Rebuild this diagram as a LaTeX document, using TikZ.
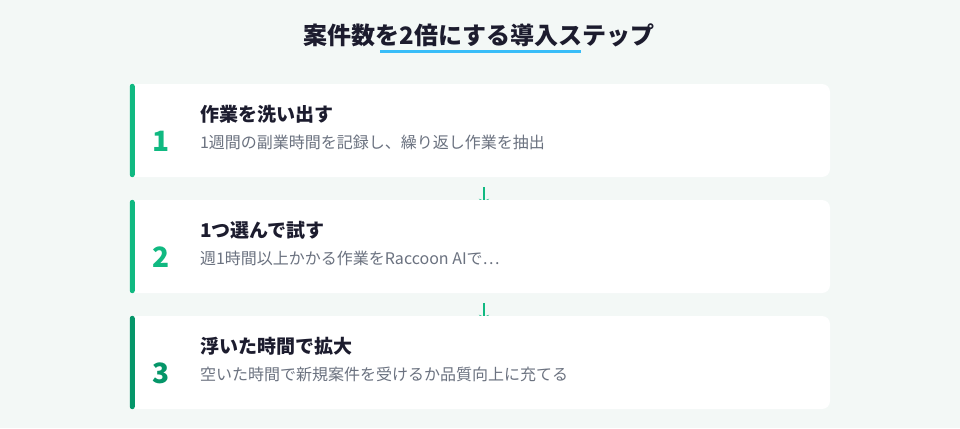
\documentclass[tikz,border=0pt]{standalone}
\usepackage{fontspec}
\setmainfont{Noto Sans CJK JP}
\usetikzlibrary{arrows.meta}

\definecolor{pagebg}{HTML}{F3F8F6}
\definecolor{inkdark}{HTML}{1C1C2E}
\definecolor{inkgray}{HTML}{6B7280}
\definecolor{stepgreen}{HTML}{10B981}
\definecolor{stepdeep}{HTML}{059669}
\definecolor{markblue}{HTML}{38BDF8}

\pgfdeclarelayer{bg}
\pgfdeclarelayer{mid}
\pgfsetlayers{bg,mid,main}

\tikzset{
  card/.style={fill=white, rounded corners=8pt, minimum width=700pt, minimum height=93pt, inner sep=0pt},
  heading/.style={font=\fontsize{24pt}{28pt}\selectfont\bfseries, text=inkdark, inner sep=0pt},
  steptitle/.style={anchor=west, font=\fontsize{19pt}{22pt}\selectfont\bfseries, text=inkdark, inner sep=0pt},
  stepdesc/.style={anchor=west, font=\fontsize{16pt}{19pt}\selectfont, text=inkgray, inner sep=0pt},
  stepno/.style={font=\fontsize{28pt}{32pt}\selectfont\bfseries, inner sep=0pt},
  flow/.style={draw=stepgreen, line width=2pt, -{Stealth[length=6pt,width=10pt]}}
}

\begin{document}
\begin{tikzpicture}[x=1pt, y=-1pt]
\begin{pgfonlayer}{bg}
\fill[pagebg] (0,0) rectangle (960,428);
\end{pgfonlayer}
\useasboundingbox (0,0) rectangle (960,428);

\node[heading] (head) at (479,35.5) {案件数を2倍にする導入ステップ};
\draw[markblue, line width=3pt] (380,52) -- (581,52);

\node[card] (c1) at (480,130.5) {};
\node[card] (c2) at (480,246.5) {};
\node[card] (c3) at (480,362.5) {};

% left bars
\foreach \c/\col in {c1/stepgreen, c2/stepgreen, c3/stepdeep} {
  \fill[white] ([xshift=4pt]\c.north west) rectangle ([xshift=10pt]\c.south west);
  \fill[\col, rounded corners=2.5pt] (\c.north west) rectangle ([xshift=5pt]\c.south west);
}

\node[stepno, text=stepgreen] (n1) at ([xshift=31.5pt,yshift=-11pt]c1.west) {1};
\node[steptitle] (t1) at ([xshift=70pt,yshift=16pt]c1.west) {作業を洗い出す};
\node[stepdesc] (d1) at ([xshift=70pt,yshift=-11.5pt]c1.west) {1週間の副業時間を記録し、繰り返し作業を抽出};

\node[stepno, text=stepgreen] (n2) at ([xshift=31.5pt,yshift=-11pt]c2.west) {2};
\node[steptitle] (t2) at ([xshift=70pt,yshift=16pt]c2.west) {1つ選んで試す};
\node[stepdesc] (d2) at ([xshift=70pt,yshift=-11.5pt]c2.west) {週1時間以上かかる作業をRaccoon AIで⋯};

\node[stepno, text=stepdeep] (n3) at ([xshift=31.5pt,yshift=-11pt]c3.west) {3};
\node[steptitle] (t3) at ([xshift=70pt,yshift=16pt]c3.west) {浮いた時間で拡大};
\node[stepdesc] (d3) at ([xshift=70pt,yshift=-11.5pt]c3.west) {空いた時間で新規案件を受けるか品質向上に充てる};

\begin{pgfonlayer}{mid}
\draw[flow] ([xshift=4pt,yshift=-10pt]c1.south) -- ([xshift=4pt,yshift=-5pt]c2.north);
\draw[flow] ([xshift=4pt,yshift=-10pt]c2.south) -- ([xshift=4pt,yshift=-5pt]c3.north);
\end{pgfonlayer}
\end{tikzpicture}
\end{document}
